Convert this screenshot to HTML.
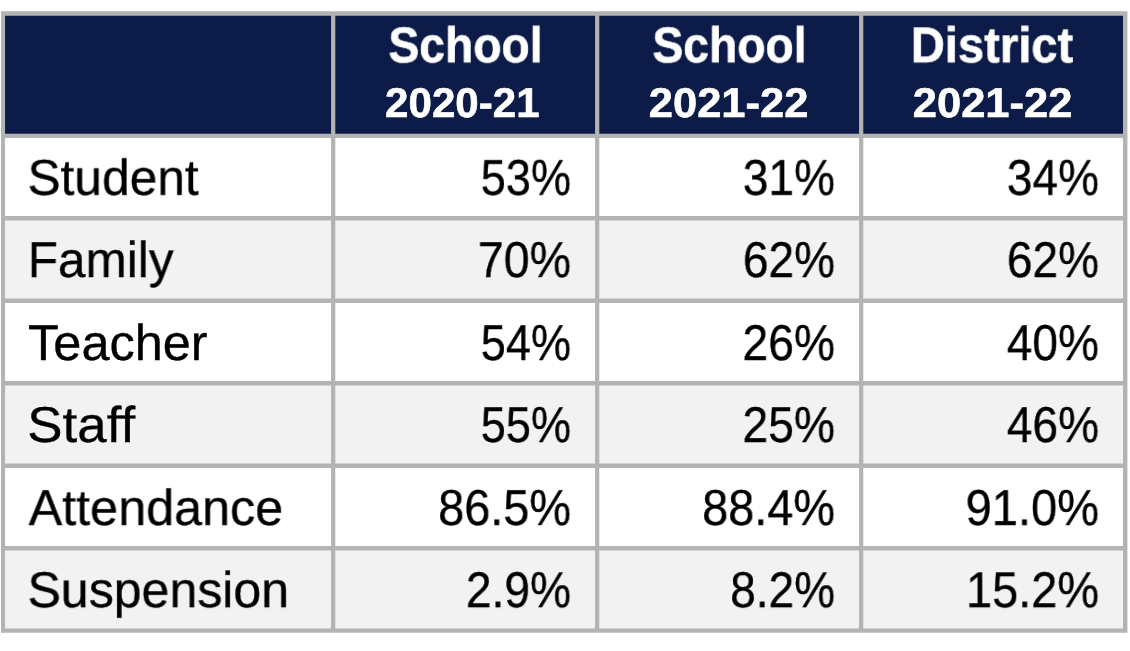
<!DOCTYPE html>
<html lang="en">
<head>
<meta charset="utf-8">
<title>School climate summary table</title>
<style>
html,body{margin:0;padding:0;background:#fff;}
body{width:1130px;height:651px;position:relative;overflow:hidden;font-family:"Liberation Sans",sans-serif;}
svg.grid{position:absolute;left:0;top:0;width:1130px;height:651px;display:block;}
table{position:absolute;left:0;top:0;width:1130px;height:651px;border-collapse:collapse;border:0;}
th,td{padding:0;border:0;font-weight:normal;}
.t{position:absolute;left:0;top:0;display:block;white-space:nowrap;line-height:0;height:0;transform-origin:0 0;text-rendering:geometricPrecision;font-kerning:normal;will-change:transform;}
.lab,.num{font-weight:400;font-size:50.4px;color:#000;-webkit-text-stroke:0.35px #000;}
.h1{font-weight:700;font-size:50.0px;color:#fff;-webkit-text-stroke:0.6px #fff;}
.h2{font-weight:700;font-size:41.6px;color:#fff;-webkit-text-stroke:0.6px #fff;}
</style>
</head>
<body>
<svg class="grid" width="1130" height="651" viewBox="0 0 1130 651" aria-hidden="true">
<rect x="3.00" y="14.00" width="1122.00" height="122.00" fill="#0d1b48"/>
<rect x="3.00" y="136.00" width="1122.00" height="82.00" fill="#fff"/>
<rect x="3.00" y="218.00" width="1122.00" height="83.00" fill="#f2f2f2"/>
<rect x="3.00" y="301.00" width="1122.00" height="82.00" fill="#fff"/>
<rect x="3.00" y="383.00" width="1122.00" height="83.00" fill="#f2f2f2"/>
<rect x="3.00" y="466.00" width="1122.00" height="82.00" fill="#fff"/>
<rect x="3.00" y="548.00" width="1122.00" height="83.00" fill="#f2f2f2"/>
<path d="M1.00 11.20H1127.40V15.80H1.00ZM1.00 133.65H1127.40V137.90H1.00ZM1.00 216.00H1127.40V220.45H1.00ZM1.00 298.45H1127.40V303.00H1.00ZM1.00 381.10H1127.40V385.60H1.00ZM1.00 463.50H1127.40V467.90H1.00ZM1.00 545.95H1127.40V550.45H1.00ZM1.00 628.50H1127.40V632.75H1.00ZM1.00 11.20H5.05V632.75H1.00ZM331.05 11.20H335.30V632.75H331.05ZM595.05 11.20H599.30V632.75H595.05ZM859.05 11.20H863.30V632.75H859.05ZM1123.00 11.20H1127.40V632.75H1123.00Z" fill="#b2b4b3" fill-rule="nonzero"/>
</svg>
<table>
<thead>
<tr><th class="corner"></th><th scope="col"><span class="t h1" style="transform:translate(388.48px,45.19px) scaleX(0.9244)">School</span> <span class="t h2" style="transform:translate(385.08px,103.29px) scaleX(1.0122)">2020-21</span></th><th scope="col"><span class="t h1" style="transform:translate(652.48px,45.19px) scaleX(0.9244)">School</span> <span class="t h2" style="transform:translate(648.79px,103.29px) scaleX(1.0457)">2021-22</span></th><th scope="col"><span class="t h1" style="transform:translate(910.73px,45.19px) scaleX(0.9435)">District</span> <span class="t h2" style="transform:translate(912.79px,103.29px) scaleX(1.0457)">2021-22</span></th></tr>
</thead>
<tbody>
<tr><th scope="row"><span class="t lab" style="transform:translate(27.52px,177.79px) scaleX(0.9847)">Student</span></th><td><span class="t num" style="transform:translate(480.72px,177.79px) scaleX(0.8958)">53%</span></td><td><span class="t num" style="transform:translate(742.81px,177.79px) scaleX(0.9148)">31%</span></td><td><span class="t num" style="transform:translate(1006.81px,177.79px) scaleX(0.9148)">34%</span></td></tr>
<tr><th scope="row"><span class="t lab" style="transform:translate(27.71px,259.99px) scaleX(0.9828)">Family</span></th><td><span class="t num" style="transform:translate(477.78px,259.99px) scaleX(0.9250)">70%</span></td><td><span class="t num" style="transform:translate(742.84px,259.99px) scaleX(0.9146)">62%</span></td><td><span class="t num" style="transform:translate(1006.84px,259.99px) scaleX(0.9146)">62%</span></td></tr>
<tr><th scope="row"><span class="t lab" style="transform:translate(28.06px,342.99px) scaleX(1.0019)">Teacher</span></th><td><span class="t num" style="transform:translate(480.72px,342.99px) scaleX(0.8958)">54%</span></td><td><span class="t num" style="transform:translate(742.44px,342.99px) scaleX(0.9186)">26%</span></td><td><span class="t num" style="transform:translate(1006.71px,342.99px) scaleX(0.9156)">40%</span></td></tr>
<tr><th scope="row"><span class="t lab" style="transform:translate(27.37px,424.99px) scaleX(1.0488)">Staff</span></th><td><span class="t num" style="transform:translate(480.72px,424.99px) scaleX(0.8958)">55%</span></td><td><span class="t num" style="transform:translate(742.45px,424.99px) scaleX(0.9185)">25%</span></td><td><span class="t num" style="transform:translate(1006.72px,424.99px) scaleX(0.9161)">46%</span></td></tr>
<tr><th scope="row"><span class="t lab" style="transform:translate(28.68px,507.89px) scaleX(0.9979)">Attendance</span></th><td><span class="t num" style="transform:translate(438.15px,507.89px) scaleX(0.9304)">86.5%</span></td><td><span class="t num" style="transform:translate(702.15px,507.89px) scaleX(0.9304)">88.4%</span></td><td><span class="t num" style="transform:translate(965.57px,507.89px) scaleX(0.9345)">91.0%</span></td></tr>
<tr><th scope="row"><span class="t lab" style="transform:translate(27.47px,590.09px) scaleX(0.9934)">Suspension</span></th><td><span class="t num" style="transform:translate(465.86px,590.09px) scaleX(0.9162)">2.9%</span></td><td><span class="t num" style="transform:translate(730.16px,590.09px) scaleX(0.9136)">8.2%</span></td><td><span class="t num" style="transform:translate(966.00px,590.09px) scaleX(0.9318)">15.2%</span></td></tr>
</tbody>
</table>
</body>
</html>
